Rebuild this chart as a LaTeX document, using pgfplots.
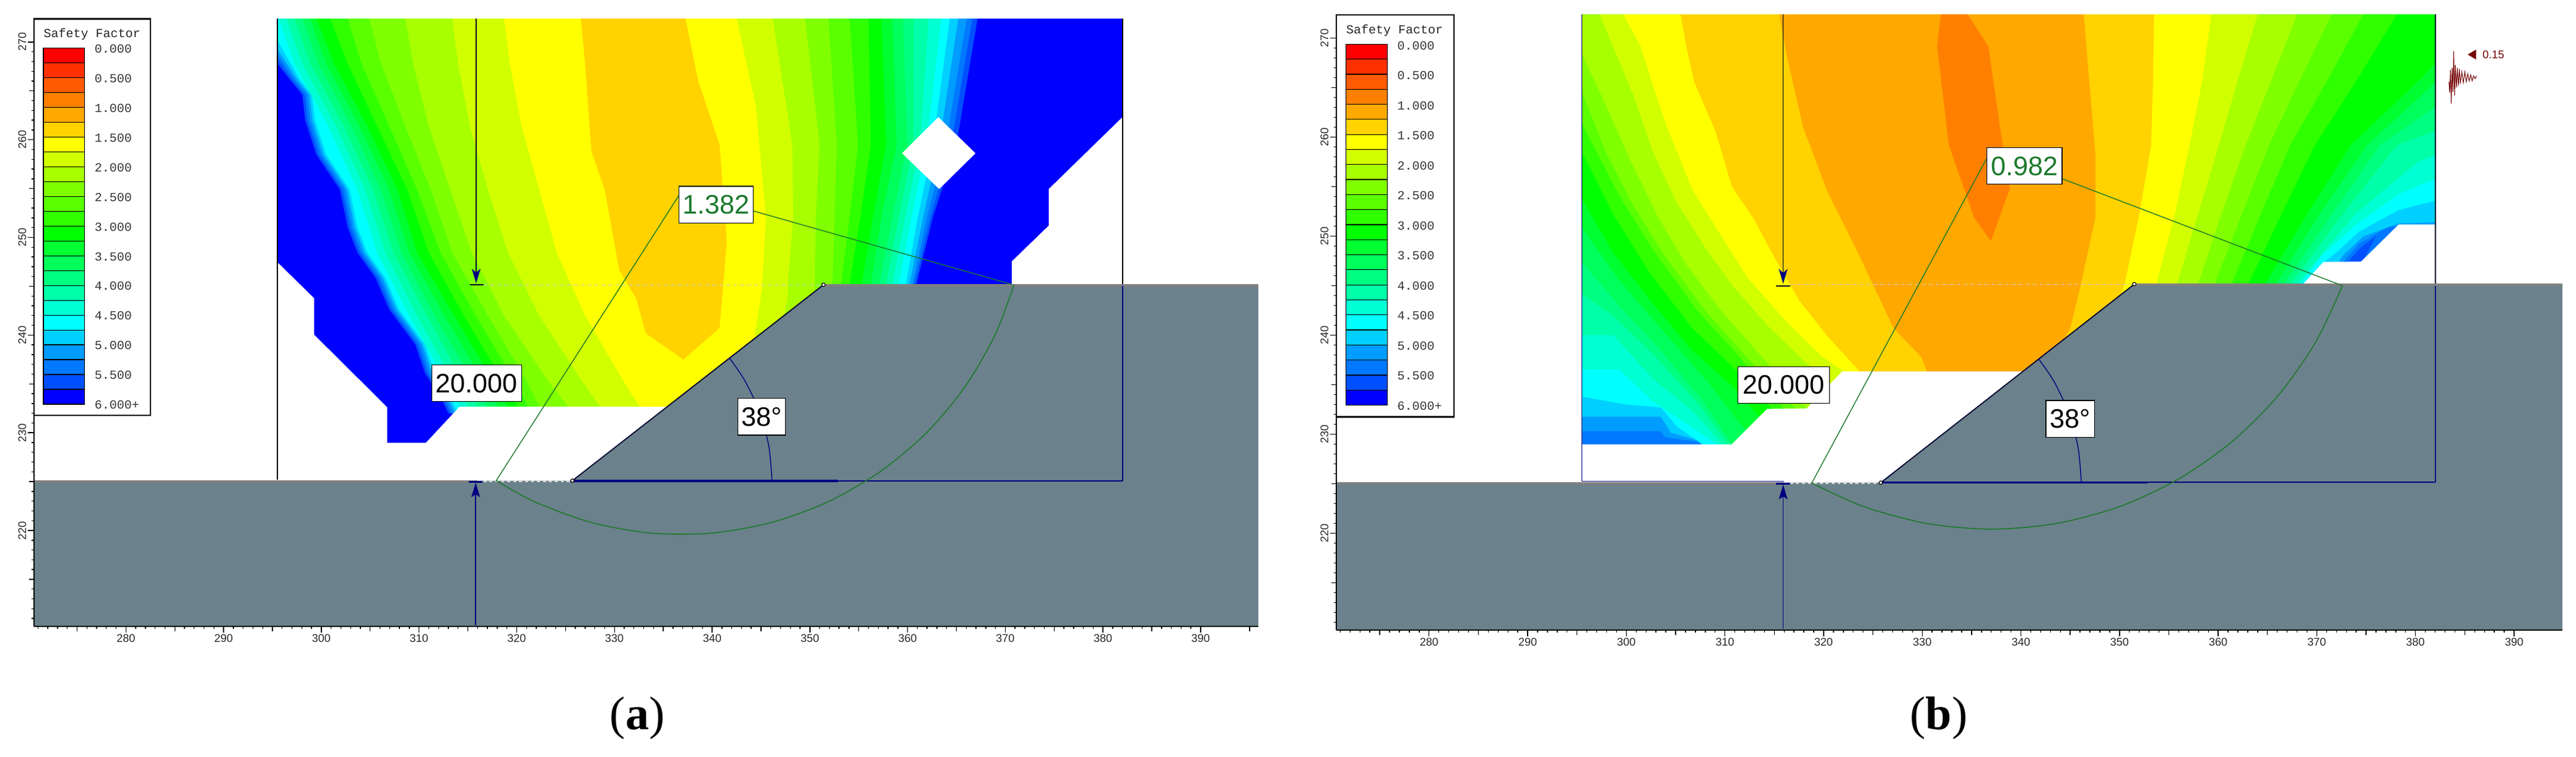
\documentclass[border=0pt]{standalone}
\usepackage{pgfplots}
\pgfplotsset{compat=1.18}
\usepackage{fontspec}
\setmainfont{Liberation Sans}
\newfontfamily\monof{Liberation Mono}
\newfontfamily\capf{Liberation Serif}
\definecolor{sw0}{HTML}{FF0000}\definecolor{sw1}{HTML}{FF3000}\definecolor{sw2}{HTML}{FF5A00}
\definecolor{sw3}{HTML}{FF8000}\definecolor{sw4}{HTML}{FFA800}\definecolor{sw5}{HTML}{FFD200}
\definecolor{sw6}{HTML}{FFFF00}\definecolor{sw7}{HTML}{D2FF00}\definecolor{sw8}{HTML}{A8FF00}
\definecolor{sw9}{HTML}{80FF00}\definecolor{sw10}{HTML}{5AFF00}\definecolor{sw11}{HTML}{30FF00}
\definecolor{sw12}{HTML}{00FF00}\definecolor{sw13}{HTML}{00FF30}\definecolor{sw14}{HTML}{00FF5A}
\definecolor{sw15}{HTML}{00FF80}\definecolor{sw16}{HTML}{00FFA8}\definecolor{sw17}{HTML}{00FFD2}
\definecolor{sw18}{HTML}{00FFFF}\definecolor{sw19}{HTML}{00D0FF}\definecolor{sw20}{HTML}{009CFF}
\definecolor{sw21}{HTML}{0078FF}\definecolor{sw22}{HTML}{0050FF}\definecolor{sw23}{HTML}{0000FF}
\definecolor{soil}{HTML}{6B818B}
\definecolor{soiltop}{HTML}{808080}
\definecolor{navyl}{HTML}{000080}
\definecolor{slipg}{HTML}{1C7A2C}
\newcommand\band[2]{\addplot[fill=sw#1,draw=none,forget plot] coordinates {#2} -- cycle;}
\newcommand\poly[2]{\addplot[fill=#1,draw=none,forget plot] coordinates {#2} -- cycle;}
\newcommand\lin[2]{\addplot[#1,forget plot] coordinates {#2};}
\pgfplotsset{panel/.style={
  scale only axis, axis x line*=bottom, axis y line*=left,
  tick align=outside, axis on top,
  axis line style={line width=.6pt}, every tick/.style={black,line width=.35pt},
  xtick={270,280,...,390}, ytick={210,220,...,270},
  minor x tick num=9, minor y tick num=9,
  major tick length=2.5pt, minor tick length=1pt,
  extra x ticks={275,285,...,395}, extra y ticks={215,225,...,265},
  extra x tick labels={}, extra y tick labels={},
  extra tick style={major tick length=1.9pt},
  /pgf/number format/assume math mode=true,
  /pgf/number format/1000 sep={},
  xticklabel style={font=\fontsize{4.5}{5}\selectfont,inner sep=.5pt,anchor=north,text=black!85},
  yticklabel style={font=\fontsize{4.5}{5}\selectfont,inner sep=.5pt,rotate=90,anchor=south,text=black!85},
  clip=true}}
\tikzset{valbox/.style={fill=white,draw=black,line width=.35pt,inner sep=0pt,minimum height=14.8pt,font=\fontsize{10.8}{12}\selectfont}}
\newcommand\sflegend{%
  \draw[fill=white,line width=.6pt] (\bL,\bT) rectangle (\bR,\bB);
  \pgfmathsetmacro\stp{(\sB-\sT)/24}
  \foreach \i in {0,...,23}{
    \pgfmathsetmacro\ya{\sT+\i*\stp}\pgfmathsetmacro\yb{\ya+\stp}
    \draw[fill=sw\i,draw=black,line width=.3pt] (\sL,\ya) rectangle (\sR,\yb);}
  \node[font=\monof\fontsize{5}{6}\selectfont,text=black!85] at (\tX,\tY) {Safety Factor};
  \pgfmathsetmacro\lst{(\lB-\lT)/12}
  \foreach \i/\t in {0/0.000,1/0.500,2/1.000,3/1.500,4/2.000,5/2.500,6/3.000,7/3.500,8/4.000,9/4.500,10/5.000,11/5.500,12/6.000+}{
    \pgfmathsetmacro\yy{\lT+\i*\lst}
    \node[font=\monof\fontsize{5}{6}\selectfont,anchor=west,inner sep=0pt,text=black!80] at (\lX,\yy) {\t};}
}
\begin{document}
\begin{tikzpicture}
\path[use as bounding box] (0,0) rectangle (1040pt,305.5pt);
%%%%%%%%%%%%%%%%%%%%%%%%%%% panel a
\begin{axis}[panel,at={(13.75pt,52.5pt)},anchor=south west,width=494.25pt,height=245.5pt,
  xmin=270.6,xmax=395.9,ymin=210.18,ymax=272.4]
\band{23}{(295.5,272.43)(382,272.43)(382,225)(295.5,225)}
\band{22}{(295.5,267.8)(296.85,266.07)(298.06,264.6)(298.35,262)(299.5,258.47)(301.9,254.9)(302.7,251.03)(303.7,248.45)(305.54,245.86)(306.95,242.63)(309.6,239.07)(310.6,236.16)(312.4,233.25)(313,232)(345,228)(360.9,244)(360.9,245.17)(362.6,252.09)(365,259.5)(367.17,272.43)(295.5,272.43)}
\band{21}{(295.5,268.3)(297.1,266.07)(298.3,264.6)(298.6,262)(299.75,258.47)(302.15,254.9)(302.95,251.03)(303.95,248.45)(305.8,245.86)(307.2,242.63)(309.85,239.07)(310.85,236.16)(312.65,233.25)(313.25,232)(345,228)(360.7,244)(360.7,245.17)(362.36,252.09)(364.46,259.5)(366.64,272.43)(295.5,272.43)}
\band{20}{(295.5,268.8)(297.35,266.07)(298.55,264.6)(298.85,262)(300,258.47)(302.4,254.9)(303.2,251.03)(304.2,248.45)(306.05,245.86)(307.45,242.63)(310.1,239.07)(311.1,236.16)(312.9,233.25)(313.5,232)(345,228)(360.5,244)(360.5,245.17)(362,252.09)(363.9,259.5)(366.07,272.43)(295.5,272.43)}
\band{19}{(295.5,269.3)(297.6,266.07)(298.8,264.6)(299.1,262)(300.25,258.47)(302.65,254.9)(303.45,251.03)(304.45,248.45)(306.3,245.86)(307.7,242.63)(310.35,239.07)(311.35,236.16)(313.15,233.25)(313.75,232)(345,228)(360.18,244)(360.18,245.17)(361.6,252.09)(363.24,259.5)(365.2,272.43)(295.5,272.43)}
\band{18}{(295.5,270.2)(297.85,266.07)(299.05,264.6)(299.35,262)(300.5,258.47)(302.9,254.9)(303.7,251.03)(304.7,248.45)(306.55,245.86)(307.95,242.63)(310.6,239.07)(311.6,236.16)(313.4,233.25)(314,232)(345,228)(359.83,244)(359.83,245.17)(361.05,252.09)(362.6,259.5)(364.33,272.43)(295.5,272.43)}
\band{17}{(295.65,272.43)(297.25,267.8)(300.7,261.4)(303.7,254.9)(305.7,248.45)(309,242)(312.6,235.5)(314.6,232)(345,228)(359.1,244)(359.1,245.17)(360.4,252.09)(361.93,259.5)(363.46,272.43)}
\band{16}{(296.4,272.43)(298.06,267.8)(301.5,261.4)(304.5,254.9)(306.55,248.45)(309.8,242)(313.4,235.5)(315.4,232)(345,228)(358.44,244)(358.44,245.17)(359.75,252.09)(361.27,259.5)(362.15,272.43)}
\band{15}{(297.25,272.43)(298.87,267.8)(302.3,261.4)(305.3,254.9)(307.4,248.45)(310.8,242)(314.4,235.5)(316.4,232)(345,228)(357.8,244)(357.8,245.17)(359.1,252.09)(360.6,259.5)(360.6,272.43)}
\band{14}{(298.06,272.43)(299.7,267.8)(303.1,261.4)(306.1,254.9)(308.2,248.45)(311.6,242)(315.4,235.5)(317.4,232)(345,228)(357.1,244)(357.1,245.17)(358.44,252.09)(359.96,259.5)(359.53,272.43)}
\band{13}{(298.87,272.43)(300.5,267.8)(303.9,261.4)(306.95,254.9)(309,248.45)(312.6,242)(316.45,235.5)(318.5,232)(345,228)(356.25,244)(356.25,245.17)(357.34,252.09)(358.87,259.5)(358.44,272.43)}
\band{12}{(299.5,272.43)(301.3,267.8)(304.7,261.4)(307.8,254.9)(309.8,248.45)(313.6,242)(317.5,235.5)(319.5,232)(345,228)(355.3,244)(355.3,245.17)(356.47,252.09)(357.8,259.5)(357.34,272.43)}
\band{11}{(300.9,272.43)(302.7,267.8)(305.7,261.4)(308.8,254.9)(311,248.45)(314.6,242)(318.5,235.5)(320.5,232)(345,228)(354.07,244)(354.07,245.17)(355.16,252.09)(356.25,259.5)(356,272.43)}
\band{10}{(302.7,272.43)(304.1,267.8)(306.95,261.4)(309.8,254.9)(312.2,248.45)(315.8,242)(319.7,235.5)(321.5,232)(345,228)(353.2,244)(353.2,245.17)(354.07,252.09)(354.94,259.5)(354.07,272.43)}
\band{9}{(304.9,272.43)(306.1,267.8)(308.6,261.4)(311.2,254.9)(313.4,248.45)(317.06,242)(320.9,235.5)(322.7,232)(345,228)(352.3,244)(352.3,245.17)(352.54,252.09)(352.76,259.5)(351.9,272.43)}
\band{8}{(308.6,272.43)(309.4,267.8)(311,261.4)(313.2,254.9)(315.4,248.45)(318.7,242)(323.1,235.5)(325.8,232)(345,228)(350.5,244)(350.5,245.17)(350.6,252.09)(351,259.5)(349.5,272.43)}
\band{7}{(313.4,272.43)(314,267.8)(315.2,261.4)(317.06,254.9)(319.1,248.45)(322.3,242)(326.56,235.5)(329,232)(345,228)(347.74,244)(347.74,245.17)(348.3,252.09)(348.2,259.5)(346.2,272.43)}
\band{6}{(318.7,272.43)(319.3,267.8)(320.5,261.4)(322.3,254.9)(324.1,248.45)(327,242)(330.8,235.5)(333,232)(345,228)(344.4,240.2)(345.1,244.68)(345.5,252.09)(344.47,263.45)(342.5,272.43)}
\band{5}{(326.56,272.43)(327,267.8)(327.65,258.8)(329,254.9)(330.5,246.66)(332.25,243.7)(333.2,240.2)(337.05,237.5)(340.76,240.73)(341.5,249.6)(340.76,259.5)(338.6,265.9)(337.27,272.43)}
% white outside the computed grid
\poly{white}{(295.5,247.47)(299.27,243.76)(299.27,240.04)(306.75,232.6)(306.75,228.98)(310.71,228.98)(314.15,232.67)(335.6,232.67)(340,225)(295.5,225)}
\poly{white}{(370.66,244)(370.66,247.54)(374.45,251.2)(374.45,254.95)(382,262.31)(382,244)}
\poly{white}{(363.15,262.31)(366.95,258.61)(363.24,254.95)(359.44,258.61)}
% ground
\poly{soil}{(270.6,210.18)(395.9,210.18)(395.9,245.15)(351.4,245.15)(325.7,225.1)(270.6,225.1)}
\lin{soiltop,line width=1pt}{(270.6,225)(316,225)}
\lin{soiltop,line width=1pt}{(351.4,245.12)(395.9,245.12)}
% frame
\lin{black,line width=.4pt}{(295.5,225.2)(295.5,272.4)}
\lin{black,line width=.4pt}{(382,245.2)(382,272.4)}
\lin{navyl,line width=.4pt}{(382,225.1)(382,245)}
\lin{navyl,line width=.5pt}{(325.7,225.1)(382,225.1)}
\lin{navyl,line width=1pt}{(325.7,225.1)(352.85,225.1)}
\lin{black!60!navyl,line width=.45pt}{(325.7,225.1)(351.4,245.15)}
\lin{white!85!black,dash pattern=on 1.2pt off 1.2pt,line width=.7pt}{(316.6,225.05)(325.7,225.05)}
\lin{white!80!black,dash pattern=on 1.6pt off 1.2pt,line width=.25pt}{(316.6,245.15)(351.4,245.15)}
% water-level arrows
\lin{black!70!navyl,line width=.4pt}{(315.85,272.4)(315.85,246)}
\lin{black!70!navyl,line width=.5pt}{(315.2,245.15)(316.6,245.15)}
\poly{navyl}{(315.85,245.3)(315.4,246.8)(315.85,246.4)(316.3,246.8)}
\lin{navyl,line width=.4pt}{(315.8,210.3)(315.8,224)}
\lin{navyl,line width=.7pt}{(315.1,225)(316.5,225)}
\poly{navyl}{(315.8,224.9)(315.35,223.4)(315.8,223.7)(316.25,223.4)}
% angle arc
\addplot[navyl,line width=.35pt,smooth,forget plot] coordinates {(346.13,225.1)(345.8,228.64)(344.87,232.08)(343.37,235.3)(341.77,237.66)};
% slip surface
\lin{slipg,line width=.35pt}{(317.9,225.1)(336.6,254.3)}
\lin{slipg,line width=.35pt}{(344.25,252.7)(370.74,245.17)}
\addplot[slipg,line width=.4pt,smooth,forget plot] coordinates {(317.9,225.1)(321.87,222.92)(327.67,220.81)(333.76,219.73)(339.94,219.73)(346.03,220.81)(351.83,222.92)(357.18,226.01)(361.92,229.98)(365.89,234.72)(368.98,240.07)(370.9,245.17)};
\addplot[only marks,mark=*,mark size=.7pt,mark options={fill=white,draw=black,line width=.3pt},forget plot] coordinates {(325.7,225.1)(351.4,245.15)};
\node[valbox,minimum width=36.25pt] at (axis cs:315.9,235.07) {20.000};
\node[valbox,minimum width=30pt,text=slipg] at (axis cs:340.41,253.35) {1.382};
\node[valbox,minimum width=19.3pt] at (axis cs:345.08,231.64) {38°};
\end{axis}
%%%%%%%%%%%%%%%%%%%%%%%%%%% panel b
\begin{axis}[panel,at={(539.5pt,51pt)},anchor=south west,width=495pt,height=248.65pt,
  xmin=270.6,xmax=394.9,ymin=210.2,ymax=272.4]
\band{21}{(295.5,272.4)(382.04,272.4)(382.04,225)(295.5,225)}
\band{22}{(373.2,247.4)(374.28,248.7)(376,250)(374.6,247.4)}
\band{20}{(295.5,272.4)(295.5,230.3)(303.5,230.3)(303.9,229.7)(307.3,229.2)(308,228.5)(345,228)(372.58,244)(372.58,247.3)(373.2,248)(374.28,249.24)(377.25,250.95)(382.04,251.1)(382.04,272.4)}
\band{19}{(295.5,272.4)(295.5,231.75)(303.5,231.75)(304.5,230.15)(307.3,229.35)(308.3,228.5)(345,228)(372.16,244)(372.16,247.3)(372.58,248)(374.7,249.97)(378.3,251.3)(382.04,251.4)(382.04,272.4)}
\band{18}{(295.5,272.4)(295.5,233.8)(299.9,233)(303.5,232.7)(305.1,230.8)(307.7,229)(308,228.5)(345,228)(370.04,244)(370.04,246.8)(372.16,248.51)(374.28,250.46)(378.3,252.65)(382.04,253.6)(382.04,272.4)}
\band{17}{(295.5,272.4)(295.5,236.5)(299.3,236.5)(302.7,233.3)(306.3,230.95)(309.1,229)(309.1,228.5)(345,228)(368.34,244)(368.34,245.1)(370.46,248.02)(374.28,251.43)(378.52,254.36)(382.04,255.8)(382.04,272.4)}
\band{16}{(295.5,272.4)(295.5,240)(298.7,240)(302.7,235.6)(306.7,232.4)(309.7,229)(309.7,228.5)(345,228)(367.9,244)(367.9,245.1)(373.85,252.2)(380.2,257.5)(382.04,258.25)(382.04,272.4)}
\band{15}{(295.5,272.4)(295.5,244.2)(298.7,241.95)(302.7,238.1)(307.1,233.3)(310.3,229)(310.3,228.5)(345,228)(367.3,244)(367.3,245.1)(372.6,252.2)(378.1,259.2)(382.04,260.7)(382.04,272.4)}
\band{14}{(295.5,272.4)(295.5,247.4)(299.1,243.2)(303.5,238.45)(307.5,233.7)(310.7,229)(310.7,228.5)(345,228)(366.64,244)(366.64,245.1)(371.5,252.2)(376.4,259.2)(382.04,263.1)(382.04,272.4)}
\band{13}{(295.5,272.4)(295.5,250.9)(299.1,245.8)(303.5,240.7)(308.3,235.25)(311.5,231.1)(313.5,229)(313.5,228.5)(345,228)(365.8,244)(365.8,245.1)(370.25,252.2)(375.1,259.2)(382.04,265.56)(382.04,272.4)}
\band{12}{(295.5,272.4)(295.5,253.75)(298.7,248.3)(302.7,243.2)(306.7,238.45)(310.7,234.9)(313.5,231.75)(315.5,229)(315.5,228.5)(345,228)(364.7,244)(364.7,245.1)(368.98,252.2)(373.43,259.2)(380.4,265.8)(382.04,267.5)(382.04,272.4)}
\band{11}{(295.5,272.4)(295.5,258.5)(298.7,252.15)(302.3,246.4)(306.7,240.7)(311.1,236.5)(314.7,232.6)(316.3,229)(316.3,228.5)(345,228)(363.04,244)(363.04,245.1)(366.4,252.2)(369.8,259.2)(374.07,265.8)(378.1,272.4)}
\band{10}{(295.5,272.4)(295.5,261.4)(299.1,254.4)(302.7,248.65)(307.1,242.6)(311.5,237.8)(315.9,232.6)(317,228.5)(345,228)(361.34,244)(361.34,245.1)(364.3,252.2)(367.3,259.2)(371.1,265.8)(374.7,272.4)}
\band{9}{(295.5,272.4)(295.5,264.6)(297.9,258.5)(300.7,253.1)(303.9,248)(307.9,242.6)(311.9,238.1)(317.1,232.6)(318,228.5)(345,228)(359.6,244)(359.6,245.1)(362.4,252.2)(365.16,259.2)(368.3,265.8)(371.5,272.4)}
\band{8}{(295.5,272.4)(295.5,268.4)(297.9,263.3)(300.3,257.9)(303.1,252.15)(305.9,247.4)(309.5,242.6)(313.5,238.1)(318.3,232.6)(319,228.5)(345,228)(357.95,244)(357.95,245.1)(360.3,252.2)(362.8,259.2)(365.4,265.8)(368,272.4)}
\band{7}{(297.3,272.4)(299.1,268.1)(300.7,264.3)(302.7,258.5)(305.1,253.4)(307.9,249)(310.7,245.1)(314.3,241)(317.9,237.5)(320.7,235.1)(322,233.8)(322,228.5)(345,228)(355.8,244)(355.8,245.1)(357.95,252.2)(360.07,259.2)(362,265.8)(364,272.4)}
\band{6}{(299.7,272.4)(301.5,269.1)(302.9,264.6)(304.1,261.1)(306.7,254.7)(309.9,249.6)(312.3,245.8)(316.3,241.3)(319.9,237.8)(322.1,236.3)(322.1,228.5)(345,228)(353.7,244)(353.7,245.1)(355.6,252.2)(357.1,259.2)(358.4,265.8)(359.3,272.4)}
\band{5}{(305.5,272.4)(306.1,269.1)(306.9,265.55)(309.1,260.45)(310.7,255)(312.9,251.8)(315.1,247.7)(317.5,243.55)(320.3,240)(323.7,236.3)(323.7,228.5)(345,228)(349.5,242.2)(350.5,245.1)(352,252.2)(353.2,259.2)(353.4,265.8)(353.5,272.4)}
\band{4}{(315.5,272.4)(316.3,268.1)(317.9,261.1)(320.3,254.7)(323.5,248.3)(327.1,240.7)(329.9,237.8)(330.5,236.3)(330.5,230)(340,232)(345,240.7)(346.07,245.1)(347.55,251.9)(347.55,258.25)(346.37,272.4)}
\band{3}{(331.9,272.4)(334.6,272.4)(336.7,269.2)(338,260.2)(338.9,254.85)(336.95,249.5)(335.25,251.9)(332.7,259.2)(331.5,269.2)}
\poly{white}{(295.5,228.97)(310.68,228.97)(314.28,232.55)(318.28,232.6)(321.88,236.33)(340.2,236.33)(342,225)(295.5,225)}
\poly{white}{(368.55,244)(368.55,245.1)(370.67,247.39)(374.49,247.44)(378.31,251.19)(382.04,251.19)(382.04,244)}
\poly{soil}{(270.6,210.2)(394.9,210.2)(394.9,245.15)(351.5,245.15)(325.8,225.1)(270.6,225.1)}
\lin{soiltop,line width=1pt}{(270.6,225)(316,225)}
\lin{soiltop,line width=1pt}{(351.5,245.12)(394.9,245.12)}
\lin{navyl,line width=.4pt}{(295.5,225.2)(295.5,272.4)}
\lin{navyl,line width=.4pt}{(295.5,225.25)(316,225.25)}
\lin{black!70!navyl,line width=.4pt}{(382.04,245.2)(382.04,272.4)}
\lin{navyl,line width=.4pt}{(382.04,225.15)(382.04,245)}
\lin{navyl,line width=.5pt}{(325.8,225.15)(382.04,225.15)}
\lin{navyl,line width=.8pt}{(325.8,225.1)(352.86,225.1)}
\lin{black!60!navyl,line width=.45pt}{(325.8,225.1)(351.5,245.15)}
\lin{white!85!black,dash pattern=on 1.2pt off 1.2pt,line width=.7pt}{(316.6,225.05)(325.8,225.05)}
\lin{white!80!black,dash pattern=on 1.6pt off 1.2pt,line width=.25pt}{(316.6,245.1)(351.5,245.1)}
\lin{black!70!navyl,line width=.4pt}{(315.9,272.4)(315.9,246)}
\lin{black!70!navyl,line width=.5pt}{(315.2,245)(316.6,245)}
\poly{navyl}{(315.9,245.2)(315.45,246.7)(315.9,246.3)(316.35,246.7)}
\lin{navyl,line width=.4pt}{(315.9,210.3)(315.9,224)}
\lin{navyl,line width=.7pt}{(315.2,225)(316.6,225)}
\poly{navyl}{(315.9,224.9)(315.45,223.4)(315.9,223.7)(316.35,223.4)}
\addplot[navyl,line width=.35pt,smooth,forget plot] coordinates {(346.13,225.1)(345.8,228.64)(344.87,232.08)(343.37,235.3)(341.8,237.6)};
\lin{slipg,line width=.35pt}{(318.8,225.06)(336.5,257.8)}
\lin{slipg,line width=.35pt}{(344.2,255.8)(372.6,245)}
\addplot[slipg,line width=.4pt,smooth,forget plot] coordinates {(318.8,225.06)(324.03,222.69)(330.43,220.98)(337.03,220.4)(343.63,220.98)(350.03,222.69)(356.03,225.49)(361.46,229.29)(366.14,233.97)(369.94,239.4)(372.6,245)};
\addplot[only marks,mark=*,mark size=.7pt,mark options={fill=white,draw=black,line width=.3pt},forget plot] coordinates {(325.8,225.1)(351.5,245.15)};
% seismic trace
\addplot[red!45!black,line width=.25pt,forget plot] coordinates {(383.4,265.6)(383.47,264.5)(383.55,266.8)(383.63,263.4)(383.72,267)(383.8,264.6)(383.88,268.7)(383.97,264.2)(384.05,267.3)(384.15,265)(384.25,267)(384.35,265.2)(384.45,266.9)(384.55,265.4)(384.7,266.6)(384.85,265.5)(385,266.6)(385.15,265.6)(385.3,266.4)(385.45,265.7)(385.6,266.3)(385.75,265.7)(385.9,266.2)(386.05,265.9)(386.2,266.2)};
\poly{red!45!black}{(385.3,268.35)(386.15,268.85)(386.15,267.85)}
\node[font=\fontsize{4.5}{5}\selectfont,text=red!45!black,inner sep=0pt] at (axis cs:387.9,268.34) {0.15};
\node[valbox,minimum width=37pt] at (axis cs:315.97,234.97) {20.000};
\node[valbox,minimum width=30.3pt,text=slipg] at (axis cs:340.36,257.09) {0.982};
\node[valbox,minimum width=19.6pt] at (axis cs:345,231.54) {38°};
\end{axis}
%%%%%%%%%%%%%%%%%%%%%%%%%%% legends and captions, in reference pixels
\begin{scope}[shift={(0,305.5pt)},x=.25pt,y=-.25pt]
\def\bL{55}\def\bT{30.6}\def\bR{243}\def\bB{671}
\def\sL{70}\def\sT{77.5}\def\sR{136.5}\def\sB{653}
\def\lX{152}\def\lT{79}\def\lB{654}\def\tX{148.6}\def\tY{55}
\sflegend
\def\bL{2158}\def\bT{24}\def\bR{2347.7}\def\bB{673.5}
\def\sL{2173.6}\def\sT{71.4}\def\sR{2240.5}\def\sB{654.6}
\def\lX{2255.8}\def\lT{73.5}\def\lB{655.6}\def\tX{2252}\def\tY{49}
\sflegend
\node[font=\capf\fontsize{19}{21}\selectfont] at (1029,1160) {(\textbf{a})};
\node[font=\capf\fontsize{19}{21}\selectfont] at (3131,1160) {(\textbf{b})};
\end{scope}
\end{tikzpicture}
\end{document}
